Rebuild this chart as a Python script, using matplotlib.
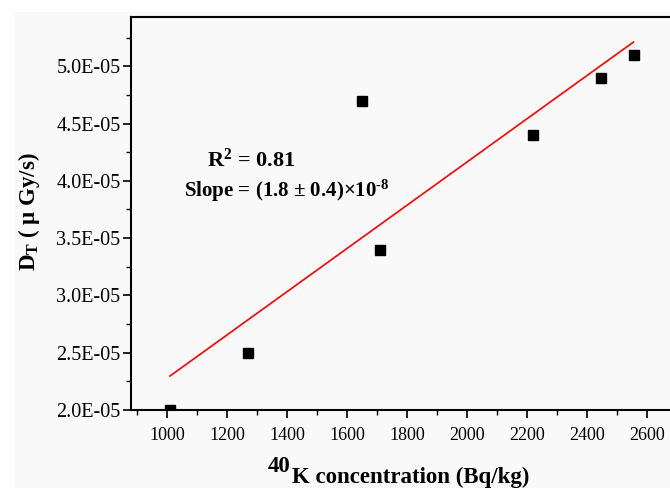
import matplotlib
matplotlib.use("Agg")
import matplotlib.pyplot as plt
import numpy as np
from matplotlib.ticker import MultipleLocator
from matplotlib.patches import Rectangle

plt.rcParams['font.family'] = ['Liberation Serif', 'DejaVu Serif']
plt.rcParams['mathtext.fontset'] = 'custom'
plt.rcParams['mathtext.rm'] = 'Liberation Serif'
plt.rcParams['mathtext.bf'] = 'Liberation Serif:bold'
plt.rcParams['mathtext.it'] = 'Liberation Serif:italic'
plt.rcParams['mathtext.default'] = 'bf'

# data
k40 = [1010, 1270, 1650, 1710, 2220, 2445, 2555]
dose = [2.0e-5, 2.5e-5, 4.7e-5, 3.4e-5, 4.4e-5, 4.9e-5, 5.1e-5]
xticks = [1000, 1200, 1400, 1600, 1800, 2000, 2200, 2400, 2600]
yticks = [2.0e-5, 2.5e-5, 3.0e-5, 3.5e-5, 4.0e-5, 4.5e-5, 5.0e-5]

fig = plt.figure(figsize=(6.70, 4.88), dpi=100)
fig.patch.set_facecolor('white')
fig.patches.append(Rectangle((15/670, 0), 1, (488-12)/488, transform=fig.transFigure,
                             facecolor='#f9f9f9', edgecolor='none', zorder=-10))

ax = fig.add_axes([131/670, 78/488, (677-131)/670, (410-17)/488])
ax.set_facecolor('#f9f9f9')

coef = np.polyfit(k40, dose, 1)
xl = np.array([min(k40), max(k40)])
ax.plot(xl, np.polyval(coef, xl), color='red', lw=1.2, zorder=2)
ax.plot(k40, dose, 's', color='black', ms=6.5, zorder=3)

ax.set_xlim(880, 2700)
ax.set_ylim(2.0e-5, 5.43e-5)
ax.set_xticks(xticks)
ax.set_xticklabels([str(v) for v in xticks])
ax.set_yticks(yticks)
ax.set_yticklabels(['%.1E' % v for v in yticks])
ax.xaxis.set_minor_locator(MultipleLocator(100))
ax.yaxis.set_minor_locator(MultipleLocator(0.25e-5))
ax.tick_params(which='major', direction='out', length=6, width=1.2)
ax.tick_params(which='minor', direction='out', length=3.5, width=1.0)
ax.tick_params(axis='x', labelsize=13, pad=6)
ax.tick_params(axis='y', labelsize=14.5, pad=1.5)

for s in ['left', 'bottom', 'top', 'right']:
    ax.spines[s].set_linewidth(1.5)
    ax.spines[s].set_color('black')

ax.set_ylabel(r'$D_T$ ( μ Gy/s)', fontsize=16.5, fontweight='bold')
ax.yaxis.set_label_coords(-0.163, 0.505)

# x label: full-size raised "40" followed by the label
fig.text(268/670, 1 - 472/488, '40', fontsize=16.5, fontweight='bold', va='baseline')
fig.text(292/670, 1 - 483/488, 'K concentration (Bq/kg)', fontsize=16.5,
         fontweight='bold', va='baseline')

fig.text(207/670, 1 - 167/488, r'R$^{2}$ = 0.81', fontsize=16, fontweight='bold', va='baseline')
fig.text(184/670, 1 - 197/488, r'Slope = (1.8 ± 0.4)×10$^{\text{-}8}$', fontsize=15,
         fontweight='bold', va='baseline')

fig.savefig('out.png', dpi=100, facecolor=fig.get_facecolor())
